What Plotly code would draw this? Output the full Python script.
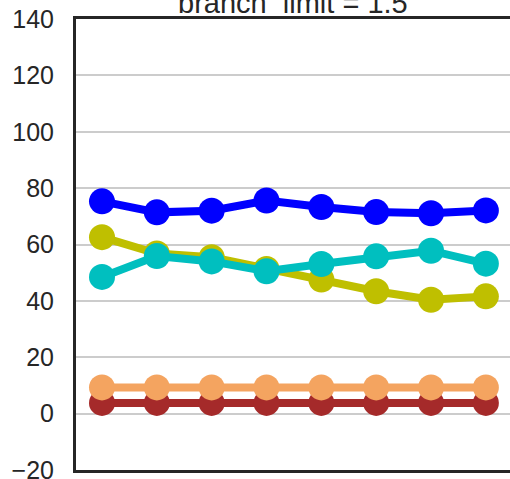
import plotly.graph_objects as go

x_vals = [0, 1, 2, 3, 4, 5, 6, 7]
blue_vals = [75.3, 71.4, 72.0, 75.6, 73.3, 71.5, 71.1, 72.1]
olive_vals = [62.6, 56.8, 55.5, 51.3, 47.6, 43.4, 40.4, 41.6]
cyan_vals = [48.5, 55.9, 54.0, 50.5, 53.1, 55.8, 57.8, 53.2]
brown_vals = [3.8, 3.8, 3.8, 3.8, 3.8, 3.8, 3.8, 3.8]
orange_vals = [9.3, 9.3, 9.3, 9.3, 9.3, 9.3, 9.3, 9.3]
y_ticks = [-20, 0, 20, 40, 60, 80, 100, 120, 140]
y_tick_text = ["\u221220", "0", "20", "40", "60", "80", "100", "120", "140"]
title_text = "branch_limit = 1.5"

series = [
    (blue_vals, "#0000FF"),
    (olive_vals, "#BFBF00"),
    (cyan_vals, "#00BFBF"),
    (brown_vals, "#A52A2A"),
    (orange_vals, "#F4A460"),
]

fig = go.Figure()
for vals, col in series:
    fig.add_trace(go.Scatter(
        x=x_vals, y=vals, mode="lines+markers",
        line=dict(color=col, width=8),
        marker=dict(color=col, size=26, line=dict(width=0)),
        showlegend=False, cliponaxis=False,
    ))

fig.update_layout(
    width=510, height=479,
    margin=dict(l=76, r=0, t=19, b=9, autoexpand=False),
    paper_bgcolor="white", plot_bgcolor="white",
    font=dict(family="Liberation Sans, Arial, sans-serif", size=25, color="#262626"),
    showlegend=False,
    annotations=[dict(
        text=title_text, xref="paper", yref="paper", x=0.5, y=1,
        xanchor="center", yanchor="bottom", yshift=-2, showarrow=False,
        font=dict(size=29, color="#262626"),
    )],
)
fig.update_xaxes(
    range=[-0.474, 7.44], showgrid=False, zeroline=False,
    showline=True, linecolor="#262626", linewidth=3, mirror=True,
    showticklabels=False, ticks="",
)
fig.update_yaxes(
    range=[-20, 140], tickvals=y_ticks, ticktext=y_tick_text,
    showgrid=True, gridcolor="#CCCCCC", gridwidth=2, zeroline=False,
    showline=True, linecolor="#262626", linewidth=3, mirror=False,
    ticks="outside", ticklen=14, tickcolor="rgba(0,0,0,0)",
    ticklabeloverflow="allow",
)
fig.write_html(
    "out.html",
    config={"displayModeBar": False},
    post_script="document.body.style.margin='0';document.body.style.overflow='hidden';",
)
